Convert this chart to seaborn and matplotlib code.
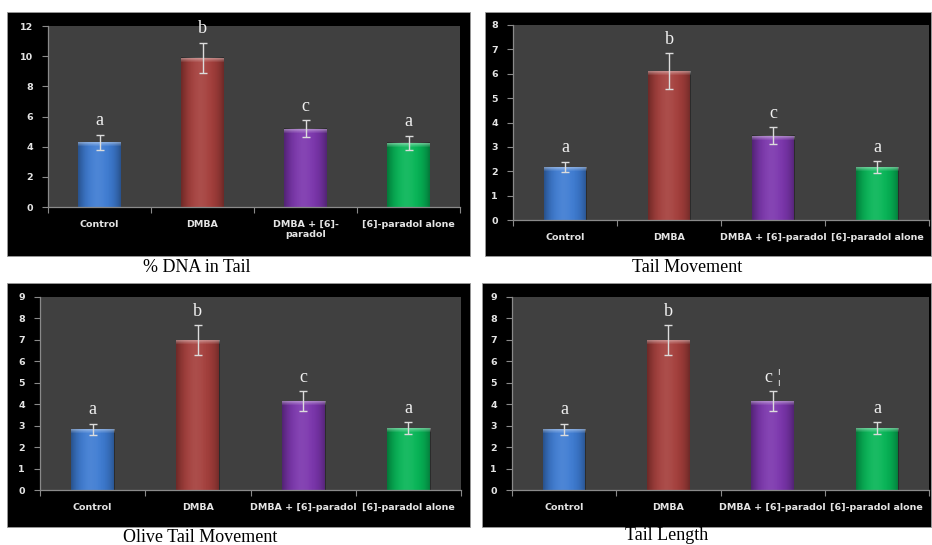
import numpy as np
import matplotlib
matplotlib.use("Agg")
import matplotlib.pyplot as plt
from matplotlib.patches import Rectangle
from matplotlib.ticker import FixedLocator
import seaborn as sns

# Treatment groups and bar colours
groups = ["Control", "DMBA", "DMBA + [6]-paradol", "[6]-paradol alone"]
groups_wrapped = ["Control", "DMBA", "DMBA + [6]-\nparadol", "[6]-paradol alone"]
bar_colors = ["#3d7bd2", "#a43e3b", "#7b35ad", "#06b556"]

# Comet assay readouts (mean and error)
dna_tail_mean = [4.3, 9.9, 5.2, 4.25]
dna_tail_err = [0.5, 1.0, 0.57, 0.47]
tail_move_mean = [2.17, 6.1, 3.45, 2.17]
tail_move_err = [0.22, 0.74, 0.35, 0.24]
olive_mean = [2.83, 6.98, 4.15, 2.88]
olive_err = [0.27, 0.7, 0.45, 0.29]
length_mean = [2.83, 6.98, 4.15, 2.88]
length_err = [0.27, 0.7, 0.45, 0.29]

# Significance letters
dna_tail_letters = ["a", "b", "c", "a"]
tail_move_letters = ["a", "b", "c", "a"]
olive_letters = ["a", "b", "c", "a"]
length_letters = ["a", "b", "c ¦", "a"]

# Axis ticks
dna_tail_yticks = [0, 2, 4, 6, 8, 10, 12]
tail_move_yticks = [0, 1, 2, 3, 4, 5, 6, 7, 8]
olive_yticks = [0, 1, 2, 3, 4, 5, 6, 7, 8, 9]
length_yticks = [0, 1, 2, 3, 4, 5, 6, 7, 8, 9]

W, H = 932, 545
fig = plt.figure(figsize=(W / 100, H / 100), dpi=100)
fig.patch.set_facecolor("white")


def px_box(x0, y0, x1, y1):
    return [x0 / W, 1 - y1 / H, (x1 - x0) / W, (y1 - y0) / H]


def shade_bars(ax):
    fig.canvas.draw()
    y0, y1 = ax.get_ylim()
    bbox = ax.get_window_extent()
    units_per_px = (y1 - y0) / bbox.height
    n = 96
    t = np.linspace(0, 1, n)
    dark = 0.34 * np.abs(2 * t - 1) ** 3
    light = 0.08 * np.exp(-((t - 0.45) / 0.22) ** 2)
    for patch in list(ax.patches):
        x = patch.get_x()
        w = patch.get_width()
        h = patch.get_height()
        if h <= 0:
            continue
        # horizontal darkening towards the edges
        img = np.zeros((1, n, 4))
        img[..., 3] = dark
        ax.imshow(img, extent=(x, x + w, 0, h), aspect="auto",
                  interpolation="bicubic", zorder=2.1, clip_path=patch,
                  clip_on=True)
        img2 = np.ones((1, n, 4))
        img2[..., 3] = light
        ax.imshow(img2, extent=(x, x + w, 0, h), aspect="auto",
                  interpolation="bicubic", zorder=2.2, clip_path=patch,
                  clip_on=True)
        # lighter bevel on top
        cap_h = 4.0 * units_per_px
        cap = np.ones((8, 1, 4))
        cap[..., 3] = np.linspace(0.4, 0.05, 8)[:, None]
        ax.imshow(cap, extent=(x, x + w, h - cap_h, h), aspect="auto",
                  interpolation="bicubic", zorder=2.3, clip_path=patch,
                  clip_on=True)
    ax.set_xlim(-0.5, 3.5)
    ax.set_ylim(y0, y1)


def panel(box, axes_box, labels, mean, err, letters, yticks, title, title_xy):
    bx0, by0, bx1, by1 = box
    fig.patches.append(Rectangle((bx0 / W, 1 - by1 / H), (bx1 - bx0) / W,
                                 (by1 - by0) / H, transform=fig.transFigure,
                                 facecolor="black", edgecolor="#9a9a9a",
                                 linewidth=0.6, zorder=-5))
    ax = fig.add_axes(px_box(*axes_box))
    ax.set_zorder(1)
    ax.set_facecolor("#404040")
    sns.barplot(x=groups, y=mean, hue=groups, palette=bar_colors,
                width=0.41, errorbar=None, legend=False, ax=ax,
                saturation=1, linewidth=0, zorder=2)
    ax.set_xlim(-0.5, 3.5)
    ax.set_ylim(yticks[0], yticks[-1])
    shade_bars(ax)
    ax.errorbar(range(len(mean)), mean, yerr=err, fmt="none",
                ecolor="#dcdcdc", elinewidth=1.0, capsize=3, capthick=1.0,
                zorder=4)
    for i, (m, e, lab) in enumerate(zip(mean, err, letters)):
        ax.annotate(lab, (i, m + e), xytext=(0, 10), textcoords="offset points",
                    ha="center", va="center", color="#f0f0f0",
                    fontsize=13, family="Liberation Serif", zorder=5)
    ax.set_xlabel("")
    ax.set_ylabel("")
    ax.set_yticks(yticks)
    ax.set_yticklabels([str(v) for v in yticks])
    ax.set_xticks(range(4))
    ax.set_xticklabels(labels)
    ax.xaxis.set_minor_locator(FixedLocator([-0.5, 0.5, 1.5, 2.5, 3.5]))
    ax.tick_params(axis="x", which="major", length=0, pad=9,
                   labelsize=6.8, labelcolor="#e4e4e4")
    ax.tick_params(axis="x", which="minor", length=4, width=0.8,
                   color="#8a8a8a", direction="out")
    ax.tick_params(axis="y", length=4, width=0.8, color="#8a8a8a",
                   direction="out", pad=7, labelsize=6.8,
                   labelcolor="#e4e4e4")
    for lbl in ax.get_xticklabels() + ax.get_yticklabels():
        lbl.set_fontweight("bold")
        lbl.set_family("DejaVu Sans")
    for side in ["top", "right"]:
        ax.spines[side].set_visible(False)
    for side in ["left", "bottom"]:
        ax.spines[side].set_color("#8a8a8a")
        ax.spines[side].set_linewidth(0.9)
    ax.grid(False)
    fig.text(title_xy[0] / W, 1 - title_xy[1] / H, title, ha="center",
             va="center", fontsize=13, family="Liberation Serif",
             color="black")
    return ax


panel((7, 12, 470, 256), (48, 26, 460, 207), groups_wrapped,
      dna_tail_mean, dna_tail_err, dna_tail_letters, dna_tail_yticks,
      "% DNA in Tail", (197, 267))
panel((485, 12, 931, 256), (513, 25, 929, 220), groups,
      tail_move_mean, tail_move_err, tail_move_letters, tail_move_yticks,
      "Tail Movement", (687, 268))
panel((7, 283, 470, 527), (40, 297, 461, 490), groups,
      olive_mean, olive_err, olive_letters, olive_yticks,
      "Olive Tail Movement", (200, 537))
panel((482, 283, 931, 527), (512, 297, 929, 490), groups,
      length_mean, length_err, length_letters, length_yticks,
      "Tail Length", (667, 535))

fig.savefig("out.png", dpi=100, facecolor="white")
